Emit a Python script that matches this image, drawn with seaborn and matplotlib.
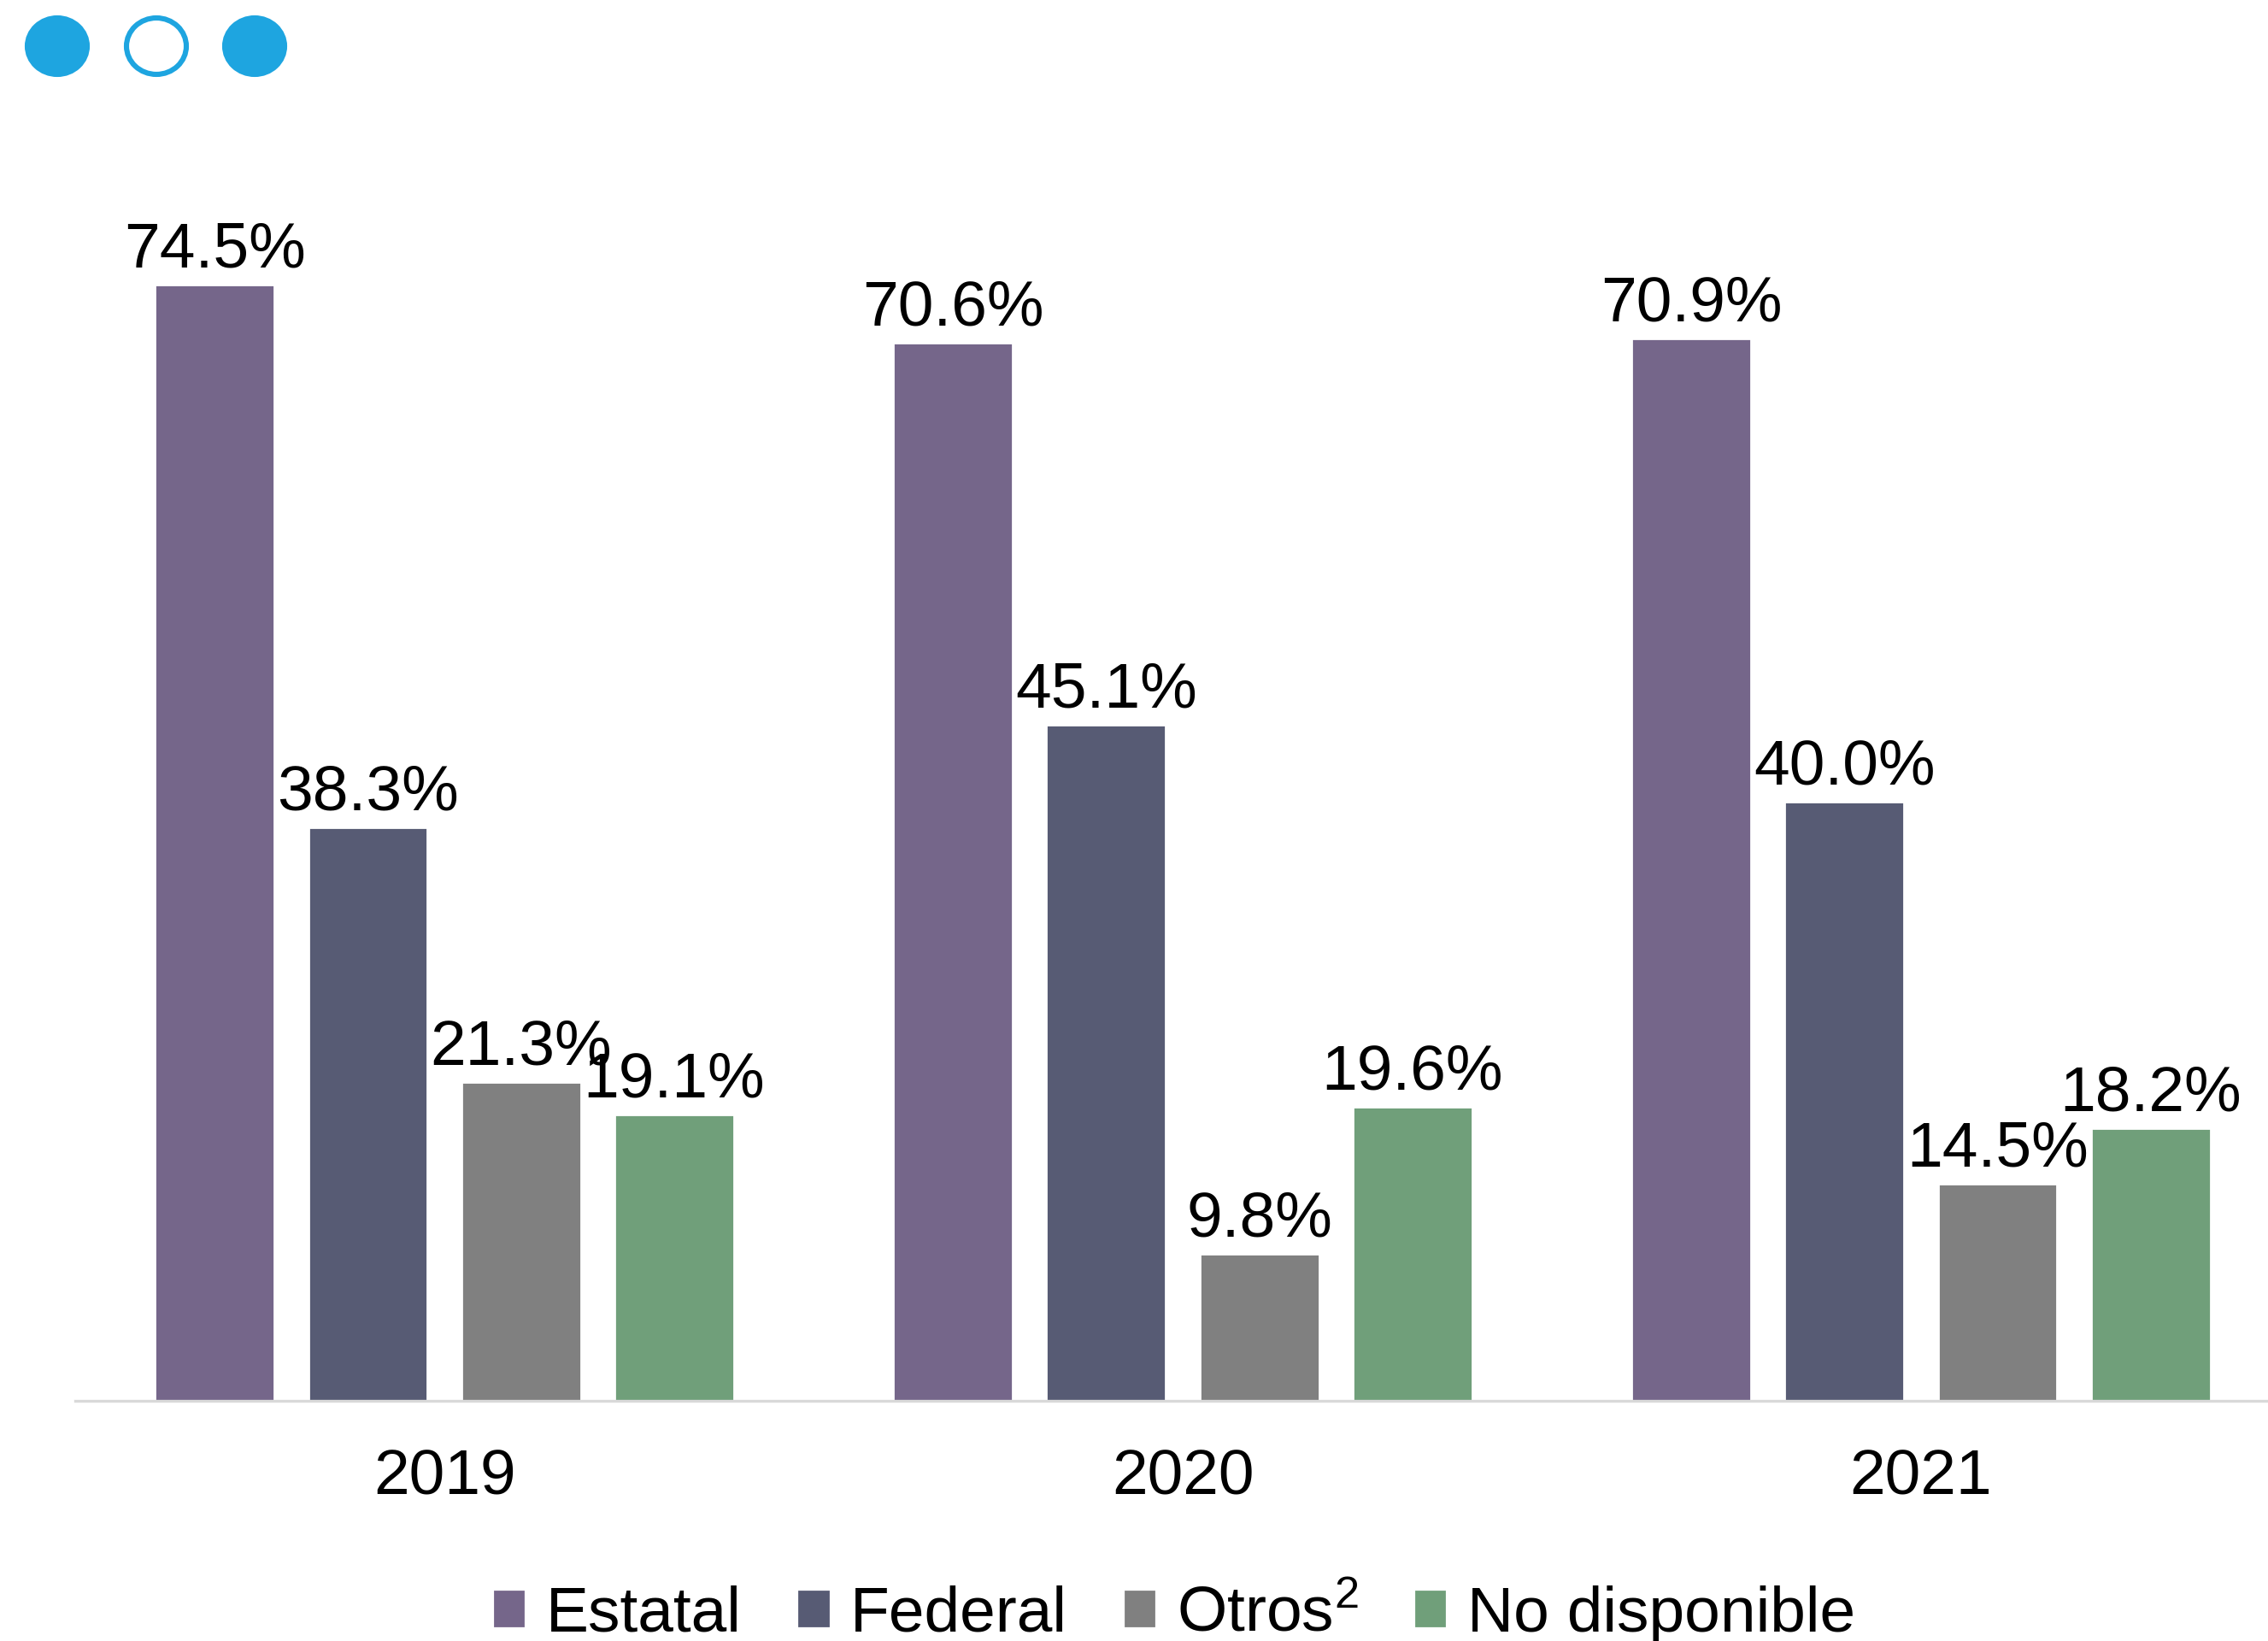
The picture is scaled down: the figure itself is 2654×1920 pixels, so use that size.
import numpy as np
import pandas as pd
import matplotlib.pyplot as plt
from matplotlib.patches import Ellipse
import seaborn as sns

# Datos
anios = ['2019', '2020', '2021']
series = ['Estatal', 'Federal', 'Otros', 'No disponible']
estatal = [74.5, 70.6, 70.9]
federal = [38.3, 45.1, 40.0]
otros = [21.3, 9.8, 14.5]
no_disponible = [19.1, 19.6, 18.2]
colores = ['#75668A', '#575B74', '#808080', '#709F7A']

df = pd.DataFrame({
    'anio': anios * 4,
    'serie': np.repeat(series, 3),
    'valor': estatal + federal + otros + no_disponible,
})

sns.set_style('white')
plt.rcParams['font.family'] = ['Liberation Sans', 'DejaVu Sans']
plt.rcParams['text.color'] = 'black'
plt.rcParams['xtick.color'] = 'black'
plt.rcParams['mathtext.fontset'] = 'custom'
plt.rcParams['mathtext.rm'] = 'Liberation Sans'
plt.rcParams['mathtext.it'] = 'Liberation Sans'

fig = plt.figure(figsize=(13.27, 9.6), dpi=200)
ax = fig.add_axes([0.0332, 0.1464, 0.9668, 0.8536])

sns.barplot(data=df, x='anio', y='valor', hue='serie', order=anios,
            hue_order=series, palette=colores, width=0.83, gap=0.22,
            saturation=1, ax=ax, legend=False)

for cont in ax.containers:
    ax.bar_label(cont, labels=[f'{v:.1f}%' for v in cont.datavalues],
                 fontsize=27, padding=2, color='black')

ax.set_xlim(-0.5, 2.47)
ax.set_ylim(0, 93.5)
ax.set_xlabel('')
ax.set_ylabel('')
ax.set_yticks([])
ax.tick_params(axis='x', length=0, labelsize=27, pad=20, labelcolor='black')
for s in ['top', 'right', 'left']:
    ax.spines[s].set_visible(False)
ax.spines['bottom'].set_color('#D9D9D9')
ax.spines['bottom'].set_linewidth(1.2)

# Leyenda
etiquetas = ['Estatal', 'Federal', r'Otros$^{2}$', 'No disponible']
handles = [plt.Rectangle((0, 0), 1, 1, color=c) for c in colores]
fig.legend(handles, etiquetas, loc='center', bbox_to_anchor=(0.518, 0.016),
           ncol=4, frameon=False, fontsize=27, handlelength=0.45,
           handleheight=0.45, handletextpad=0.35, columnspacing=0.9)

# Puntos decorativos
azul = '#1EA5E0'
for i, cx in enumerate([67, 183, 298]):
    e = Ellipse((cx / 2654, 1 - 54 / 1920), 70 / 2654, 66 / 1920,
                transform=fig.transFigure,
                facecolor='white' if i == 1 else azul,
                edgecolor=azul, linewidth=2.2)
    fig.patches.append(e)

fig.savefig('out.png', dpi=200)
